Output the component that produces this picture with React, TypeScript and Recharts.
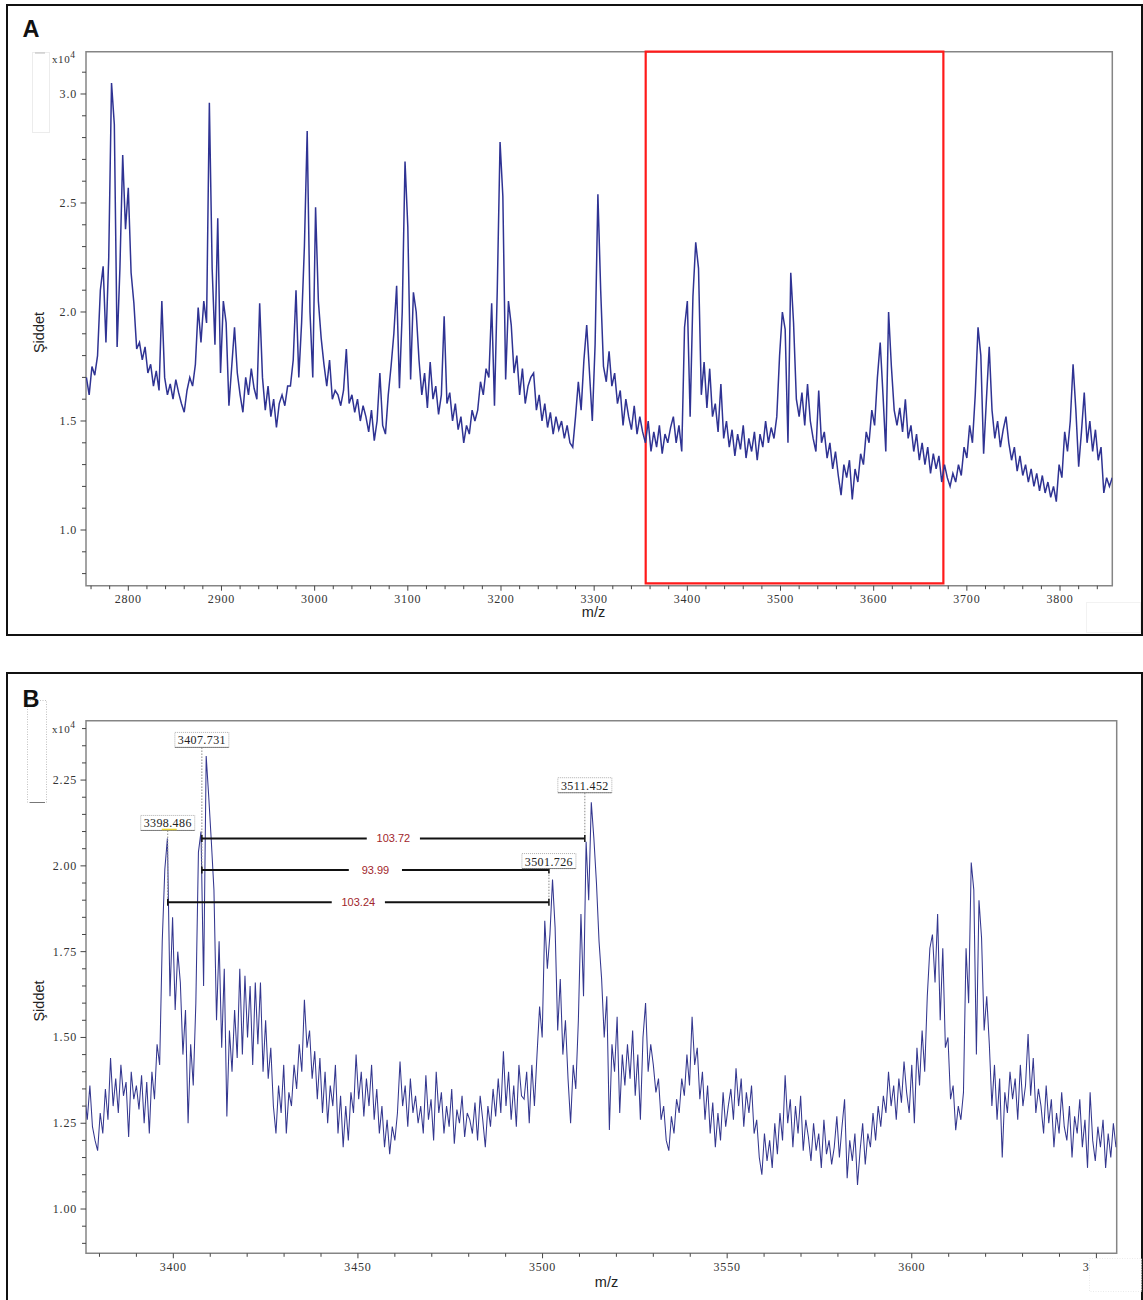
import React from 'react';
import { LineChart, Line, XAxis, YAxis, ReferenceArea, ReferenceLine, ReferenceDot } from 'recharts';

const SERIF = "'Liberation Serif', 'Times New Roman', serif";
const SANS = "'Liberation Sans', Arial, sans-serif";

// panel A: whole spectrum, one reading every 3 m/z starting at 2755 (x10^4 counts)
const mzStartA = 2755;
const mzStepA = 3;
const intensityA = [
  1.70, 1.62, 1.75, 1.71, 1.80, 2.10, 2.21, 1.86, 2.25, 3.05,
  2.86, 1.84, 2.20, 2.72, 2.38, 2.57, 2.18, 2.04, 1.83, 1.86,
  1.78, 1.84, 1.72, 1.76, 1.66, 1.73, 1.64, 2.05, 1.70, 1.62,
  1.67, 1.60, 1.69, 1.63, 1.58, 1.54, 1.64, 1.70, 1.66, 1.76,
  2.02, 1.86, 2.05, 1.95, 2.96, 2.20, 1.85, 2.43, 1.72, 2.05,
  1.95, 1.57, 1.75, 1.93, 1.72, 1.62, 1.54, 1.70, 1.62, 1.74,
  1.65, 1.60, 2.04, 1.70, 1.55, 1.66, 1.52, 1.60, 1.47, 1.58,
  1.62, 1.57, 1.66, 1.66, 1.78, 2.10, 1.70, 1.95, 2.30, 2.83,
  2.00, 1.70, 2.48, 2.05, 1.88, 1.76, 1.66, 1.78, 1.60, 1.64,
  1.62, 1.57, 1.64, 1.83, 1.58, 1.62, 1.54, 1.60, 1.50, 1.57,
  1.52, 1.45, 1.55, 1.41, 1.50, 1.72, 1.48, 1.44, 1.62, 1.75,
  1.90, 2.12, 1.65, 2.00, 2.69, 2.39, 1.69, 2.09, 2.00, 1.78,
  1.62, 1.72, 1.56, 1.77, 1.60, 1.66, 1.53, 1.62, 1.98, 1.58,
  1.63, 1.50, 1.58, 1.46, 1.52, 1.40, 1.48, 1.44, 1.55, 1.50,
  1.55, 1.68, 1.62, 1.74, 1.70, 2.04, 1.57, 2.10, 2.78, 2.53,
  1.69, 2.05, 1.94, 1.72, 1.80, 1.62, 1.74, 1.58, 1.66, 1.70,
  1.72, 1.55, 1.62, 1.50, 1.58, 1.47, 1.54, 1.44, 1.52, 1.46,
  1.50, 1.42, 1.48, 1.40, 1.38, 1.52, 1.68, 1.55, 1.78, 1.94,
  1.72, 1.50, 1.85, 2.54, 2.10, 1.75, 1.68, 1.82, 1.66, 1.72,
  1.58, 1.64, 1.48, 1.60, 1.52, 1.46, 1.57, 1.44, 1.52, 1.45,
  1.40, 1.50, 1.36, 1.45, 1.38, 1.48, 1.35, 1.44, 1.40, 1.47,
  1.52, 1.40, 1.48, 1.36, 1.93, 2.05, 1.52, 2.07, 2.32, 2.20,
  1.62, 1.77, 1.56, 1.74, 1.52, 1.58, 1.45, 1.67, 1.42, 1.50,
  1.38, 1.46, 1.34, 1.44, 1.37, 1.48, 1.33, 1.42, 1.36, 1.45,
  1.32, 1.44, 1.38, 1.50, 1.40, 1.47, 1.42, 1.52, 1.80, 2.00,
  1.92, 1.40, 2.18, 1.95, 1.60, 1.52, 1.63, 1.48, 1.67, 1.50,
  1.42, 1.36, 1.64, 1.40, 1.45, 1.33, 1.40, 1.28, 1.36, 1.25,
  1.16, 1.30, 1.24, 1.32, 1.14, 1.28, 1.22, 1.35, 1.30, 1.45,
  1.40, 1.55, 1.48, 1.70, 1.86, 1.62, 1.36, 2.00, 1.75, 1.55,
  1.48, 1.56, 1.45, 1.60, 1.42, 1.48, 1.36, 1.44, 1.32, 1.40,
  1.30, 1.38, 1.26, 1.35, 1.28, 1.34, 1.22, 1.30, 1.24, 1.20,
  1.26, 1.22, 1.30, 1.25, 1.38, 1.33, 1.48, 1.40, 1.62, 1.93,
  1.80, 1.35, 1.60, 1.84, 1.55, 1.42, 1.50, 1.38, 1.46, 1.52,
  1.40, 1.32, 1.38, 1.27, 1.34, 1.25, 1.30, 1.22, 1.28, 1.20,
  1.26, 1.18, 1.25, 1.17, 1.22, 1.15, 1.20, 1.13, 1.30, 1.24,
  1.45, 1.36, 1.50, 1.76, 1.55, 1.29, 1.45, 1.63, 1.40, 1.50,
  1.36, 1.46, 1.32, 1.38, 1.17, 1.24, 1.20, 1.24,
];

// panel B: zoom on 3376-3655, one reading every 0.7 m/z
const mzStartB = 3376;
const mzStepB = 0.7;
const intensityB = [
  1.33, 1.26, 1.36, 1.24, 1.20, 1.17, 1.28, 1.22, 1.35, 1.26,
  1.44, 1.30, 1.38, 1.28, 1.42, 1.33, 1.37, 1.21, 1.40, 1.32,
  1.36, 1.29, 1.39, 1.25, 1.37, 1.22, 1.40, 1.32, 1.48, 1.42,
  1.78, 1.99, 2.08, 1.62, 1.85, 1.58, 1.75, 1.66, 1.45, 1.58,
  1.25, 1.48, 1.36, 1.60, 2.04, 2.10, 1.65, 2.32, 2.20, 2.07,
  1.93, 1.55, 1.78, 1.47, 1.70, 1.27, 1.52, 1.40, 1.58, 1.44,
  1.70, 1.45, 1.68, 1.50, 1.65, 1.42, 1.66, 1.48, 1.66, 1.40,
  1.55, 1.38, 1.47, 1.30, 1.22, 1.36, 1.28, 1.42, 1.22, 1.34,
  1.30, 1.42, 1.35, 1.48, 1.40, 1.61, 1.47, 1.52, 1.38, 1.46,
  1.32, 1.44, 1.28, 1.40, 1.25, 1.36, 1.30, 1.42, 1.22, 1.33,
  1.18, 1.30, 1.20, 1.34, 1.28, 1.45, 1.32, 1.40, 1.27, 1.38,
  1.30, 1.42, 1.26, 1.35, 1.22, 1.30, 1.18, 1.26, 1.16, 1.24,
  1.20, 1.28, 1.43, 1.30, 1.36, 1.24, 1.38, 1.28, 1.33, 1.25,
  1.30, 1.22, 1.39, 1.26, 1.32, 1.20, 1.40, 1.28, 1.34, 1.22,
  1.30, 1.24, 1.35, 1.19, 1.29, 1.25, 1.33, 1.21, 1.28, 1.26,
  1.22, 1.31, 1.20, 1.33, 1.26, 1.18, 1.30, 1.24, 1.35, 1.27,
  1.38, 1.28, 1.46, 1.30, 1.40, 1.26, 1.36, 1.24, 1.42, 1.33,
  1.32, 1.40, 1.25, 1.42, 1.30, 1.45, 1.59, 1.50, 1.84, 1.70,
  1.80, 1.96, 1.82, 1.52, 1.67, 1.45, 1.55, 1.38, 1.25, 1.42,
  1.35, 1.55, 1.86, 1.62, 2.07, 1.90, 2.185, 2.08, 1.95, 1.78,
  1.67, 1.50, 1.62, 1.23, 1.48, 1.40, 1.56, 1.28, 1.45, 1.36,
  1.48, 1.38, 1.52, 1.33, 1.45, 1.26, 1.50, 1.60, 1.40, 1.48,
  1.42, 1.34, 1.38, 1.26, 1.30, 1.20, 1.17, 1.27, 1.22, 1.32,
  1.28, 1.38, 1.33, 1.45, 1.36, 1.56, 1.42, 1.47, 1.32, 1.40,
  1.26, 1.36, 1.22, 1.31, 1.18, 1.28, 1.20, 1.34, 1.24, 1.30,
  1.35, 1.26, 1.41, 1.30, 1.38, 1.24, 1.34, 1.28, 1.36, 1.22,
  1.26, 1.15, 1.10, 1.22, 1.14, 1.20, 1.12, 1.25, 1.16, 1.28,
  1.20, 1.39, 1.25, 1.32, 1.18, 1.30, 1.22, 1.33, 1.17, 1.26,
  1.21, 1.14, 1.25, 1.17, 1.22, 1.12, 1.26, 1.16, 1.20, 1.13,
  1.18, 1.27, 1.15, 1.24, 1.32, 1.09, 1.20, 1.14, 1.22, 1.07,
  1.17, 1.25, 1.13, 1.22, 1.18, 1.28, 1.20, 1.30, 1.24, 1.33,
  1.28, 1.40, 1.30, 1.36, 1.26, 1.38, 1.31, 1.43, 1.34, 1.28,
  1.42, 1.25, 1.47, 1.36, 1.52, 1.40, 1.62, 1.76, 1.80, 1.66,
  1.86, 1.55, 1.76, 1.47, 1.50, 1.32, 1.36, 1.23, 1.30, 1.26,
  1.34, 1.76, 1.60, 2.01, 1.93, 1.45, 1.90, 1.79, 1.52, 1.62,
  1.48, 1.30, 1.42, 1.26, 1.38, 1.15, 1.34, 1.28, 1.40, 1.32,
  1.38, 1.26, 1.42, 1.30, 1.36, 1.51, 1.33, 1.44, 1.28, 1.35,
  1.30, 1.22, 1.36, 1.25, 1.32, 1.18, 1.28, 1.22, 1.34, 1.24,
  1.20, 1.30, 1.15, 1.27, 1.22, 1.32, 1.18, 1.26, 1.12, 1.34,
  1.20, 1.14, 1.24, 1.18, 1.26, 1.12, 1.22, 1.15, 1.25, 1.18,
];

// labelled axis ticks
const xMajorA = [2800, 2900, 3000, 3100, 3200, 3300, 3400, 3500, 3600, 3700, 3800];
const yMajorA = [1.0, 1.5, 2.0, 2.5, 3.0];
const xMajorB = [3400, 3450, 3500, 3550, 3600, 3650];
const yMajorB = [1.0, 1.25, 1.5, 1.75, 2.0, 2.25];

// zoom window drawn in red on panel A
const windowFrom = 3355.3;
const windowTo = 3674.8;
const windowLow = 0.7555;

// peak tags on panel B
const peakMz = [3398.486, 3407.731, 3501.726, 3511.452];
const peakTagLevel = [2.125, 2.367, 2.014, 2.235];
const peakStemEnd = [1.894, 1.988, 1.894, 2.08];

// distance bars on panel B
const gapFrom = [3407.731, 3407.731, 3398.486];
const gapTo = [3511.452, 3501.726, 3501.726];
const gapLevel = [2.08, 1.988, 1.894];
const gapText = ['103.72', '93.99', '103.24'];

const tableA = intensityA.map((v, i) => ({ mz: mzStartA + i * mzStepA, v }));
const tableB = intensityB.map((v, i) => ({ mz: +(mzStartB + i * mzStepB).toFixed(2), v }));

const domXA: [number, number] = [2754.6, 3856.1];
const domYA: [number, number] = [0.7445, 3.194];
const domXB: [number, number] = [3376.35, 3655.5];
const domYB: [number, number] = [0.871, 2.423];

const xTicksA = Array.from({ length: 55 }, (_, i) => 2760 + i * 20);
const yTicksA = Array.from({ length: 24 }, (_, i) => (8 + i) / 10);
const xTicksB = Array.from({ length: 28 }, (_, i) => 3380 + i * 10);
const yTicksB = Array.from({ length: 31 }, (_, i) => (18 + i) / 20);

const isMajor = (list: number[], v: number) => list.some((m) => Math.abs(m - v) < 1e-6);

const makeXTick = (majors: number[]) => (props: any) => {
  const { x, y, payload } = props;
  const major = isMajor(majors, payload.value);
  return (
    <g>
      <line x1={x} x2={x} y1={y} y2={y + (major ? 5 : 3.5)} stroke="#444" strokeWidth={1} />
      {major && (
        <text x={x} y={y + 17.5} textAnchor="middle" fontFamily={SERIF} fontSize={12} letterSpacing={0.8} fill="#333">
          {payload.value}
        </text>
      )}
    </g>
  );
};

const makeYTick = (majors: number[], digits: number) => (props: any) => {
  const { x, y, payload } = props;
  const major = isMajor(majors, payload.value);
  return (
    <g>
      <line x1={x} x2={x - (major ? 5.5 : 4)} y1={y} y2={y} stroke="#444" strokeWidth={1} />
      {major && (
        <text x={x - 9} y={y + 4} textAnchor="end" fontFamily={SERIF} fontSize={12} letterSpacing={0.8} fill="#333">
          {Number(payload.value).toFixed(digits)}
        </text>
      )}
    </g>
  );
};

const PeakTag = ({ cx, cy, text, mark }: any) => (
  <g>
    <rect x={cx - 27} y={cy - 7.5} width={54} height={15} fill="#fff" stroke="#9a9a9a" strokeWidth={0.8} strokeDasharray="1 1" />
    <line x1={cx - 27} x2={cx + 27} y1={cy + 7.5} y2={cy + 7.5} stroke="#666" strokeWidth={0.8} />
    {mark && <line x1={cx - 6} x2={cx + 9} y1={cy + 6.5} y2={cy + 6.5} stroke="#e6d234" strokeWidth={1.5} />}
    <text x={cx} y={cy + 4.5} textAnchor="middle" fontFamily={SERIF} fontSize={12} letterSpacing={0.4} fill="#222">
      {text}
    </text>
  </g>
);

const Cap = ({ cx, cy }: any) => (
  <line x1={cx} x2={cx} y1={cy - 3.5} y2={cy + 3.5} stroke="#111" strokeWidth={1.5} />
);

const GapLabel = ({ cx, cy, text }: any) => (
  <text x={cx} y={cy + 4} textAnchor="middle" fontFamily={SANS} fontSize={11} fill="#a1262b">
    {text}
  </text>
);

const SpectrumA = () => (
  <LineChart width={1143} height={640} data={tableA} margin={{ top: 51.7, right: 30.7, bottom: 24.3, left: 36 }}>
    <XAxis type="number" dataKey="mz" domain={domXA} ticks={xTicksA} interval={0} allowDataOverflow height={30}
      tickSize={0} tickMargin={0} axisLine={false} tickLine={false} tick={makeXTick(xMajorA)} />
    <YAxis type="number" domain={domYA} ticks={yTicksA} interval={0} allowDataOverflow width={50}
      tickSize={0} tickMargin={0} axisLine={false} tickLine={false} tick={makeYTick(yMajorA, 1)} />
    <ReferenceArea x1={domXA[0]} x2={domXA[1]} y1={domYA[0]} y2={domYA[1]} fill="none" stroke="#858585" strokeWidth={1.5} ifOverflow="visible" />
    <Line type="linear" dataKey="v" stroke="#2f3393" strokeWidth={1.5} strokeLinejoin="miter" dot={false} isAnimationActive={false} />
    <ReferenceArea x1={windowFrom} x2={windowTo} y1={windowLow} y2={domYA[1]} fill="none" stroke="#ff1a1a" strokeWidth={2.2} ifOverflow="visible" />
  </LineChart>
);

const GAP_HALF = 7.2;

const SpectrumB = () => (
  <LineChart width={1143} height={640} data={tableB} margin={{ top: 60.7, right: 26.3, bottom: 16.7, left: 36 }}>
    <XAxis type="number" dataKey="mz" domain={domXB} ticks={xTicksB} interval={0} allowDataOverflow height={30}
      tickSize={0} tickMargin={0} axisLine={false} tickLine={false} tick={makeXTick(xMajorB)} />
    <YAxis type="number" domain={domYB} ticks={yTicksB} interval={0} allowDataOverflow width={50}
      tickSize={0} tickMargin={0} axisLine={false} tickLine={false} tick={makeYTick(yMajorB, 2)} />
    <ReferenceArea x1={domXB[0]} x2={domXB[1]} y1={domYB[0]} y2={domYB[1]} fill="none" stroke="#858585" strokeWidth={1.5} ifOverflow="visible" />
    <Line type="linear" dataKey="v" stroke="#34378f" strokeWidth={1.05} strokeLinejoin="miter" dot={false} isAnimationActive={false} />
    {peakMz.map((mz, i) => (
      <ReferenceLine key={`stem${i}`} ifOverflow="visible" stroke="#8a8a8a" strokeWidth={1} strokeDasharray="1.5 1.5"
        segment={[{ x: mz, y: peakTagLevel[i] - 0.022 }, { x: mz, y: peakStemEnd[i] }]} />
    ))}
    {gapFrom.map((from, i) => {
      const mid = (from + gapTo[i]) / 2;
      return (
        <React.Fragment key={`gap${i}`}>
          <ReferenceLine ifOverflow="visible" stroke="#111" strokeWidth={2}
            segment={[{ x: from, y: gapLevel[i] }, { x: mid - GAP_HALF, y: gapLevel[i] }]} />
          <ReferenceLine ifOverflow="visible" stroke="#111" strokeWidth={2}
            segment={[{ x: mid + GAP_HALF, y: gapLevel[i] }, { x: gapTo[i], y: gapLevel[i] }]} />
          <ReferenceDot x={from} y={gapLevel[i]} ifOverflow="visible" shape={(p: any) => <Cap {...p} />} />
          <ReferenceDot x={gapTo[i]} y={gapLevel[i]} ifOverflow="visible" shape={(p: any) => <Cap {...p} />} />
          <ReferenceDot x={mid} y={gapLevel[i]} ifOverflow="visible" shape={(p: any) => <GapLabel {...p} text={gapText[i]} />} />
        </React.Fragment>
      );
    })}
    {peakMz.map((mz, i) => (
      <ReferenceDot key={`tag${i}`} x={mz} y={peakTagLevel[i]} ifOverflow="visible"
        shape={(p: any) => <PeakTag {...p} text={mz.toFixed(3)} mark={i === 0} />} />
    ))}
  </LineChart>
);

const Overlay = () => (
  <svg width={1143} height={1300} style={{ position: 'absolute', left: 0, top: 0, pointerEvents: 'none' }}>
    {/* panel frames */}
    <rect x={7} y={5} width={1135} height={630} fill="none" stroke="#111" strokeWidth={2} />
    <rect x={7} y={673} width={1135} height={660} fill="none" stroke="#111" strokeWidth={2} />
    {/* faint leftovers of the original software screenshots */}
    <rect x={32.5} y={52.5} width={17} height={80} fill="none" stroke="#ececec" strokeWidth={1} />
    <line x1={35} x2={45} y1={53} y2={53} stroke="#bbb" strokeWidth={1} />
    <rect x={1086.5} y={602.5} width={54} height={30} fill="#fff" stroke="#f2f2f2" strokeWidth={1} />
    <rect x={27.5} y={700.5} width={19} height={102} fill="none" stroke="#b0b0b0" strokeWidth={0.8} strokeDasharray="1 1.5" />
    <line x1={30} x2={45} y1={802.5} y2={802.5} stroke="#777" strokeWidth={1} />
    <rect x={1089.5} y={1258.5} width={52} height={33} fill="#fff" stroke="#e4e4e4" strokeWidth={0.8} strokeDasharray="1 1.5" />
    {/* panel letters */}
    <text x={22.5} y={37} fontFamily={SANS} fontWeight={700} fontSize={23.5} fill="#111">A</text>
    <text x={22.5} y={707} fontFamily={SANS} fontWeight={700} fontSize={23.5} fill="#111">B</text>
    {/* y scale factor */}
    <text x={52} y={63} fontFamily={SERIF} fontSize={11} letterSpacing={0.6} fill="#333">
      x10<tspan dy={-5} fontSize={9.5}>4</tspan>
    </text>
    <text x={52} y={733} fontFamily={SERIF} fontSize={11} letterSpacing={0.6} fill="#333">
      x10<tspan dy={-5} fontSize={9.5}>4</tspan>
    </text>
    {/* axis titles */}
    <text transform="translate(44,332.5) rotate(-90)" textAnchor="middle" fontFamily={SANS} fontSize={14.5} fill="#222">Şiddet</text>
    <text transform="translate(44,1001) rotate(-90)" textAnchor="middle" fontFamily={SANS} fontSize={14.5} fill="#222">Şiddet</text>
    <text x={593.5} y={617} textAnchor="middle" fontFamily={SANS} fontSize={14.5} fill="#222">m/z</text>
    <text x={606.5} y={1287} textAnchor="middle" fontFamily={SANS} fontSize={14.5} fill="#222">m/z</text>
  </svg>
);

export default function App() {
  return (
    <div style={{ position: 'absolute', left: 0, top: 0, width: 1143, height: 1300, overflow: 'hidden', background: '#fff' }}>
      <div style={{ position: 'absolute', left: 0, top: 0 }}>
        <SpectrumA />
      </div>
      <div style={{ position: 'absolute', left: 0, top: 660 }}>
        <SpectrumB />
      </div>
      <Overlay />
    </div>
  );
}
